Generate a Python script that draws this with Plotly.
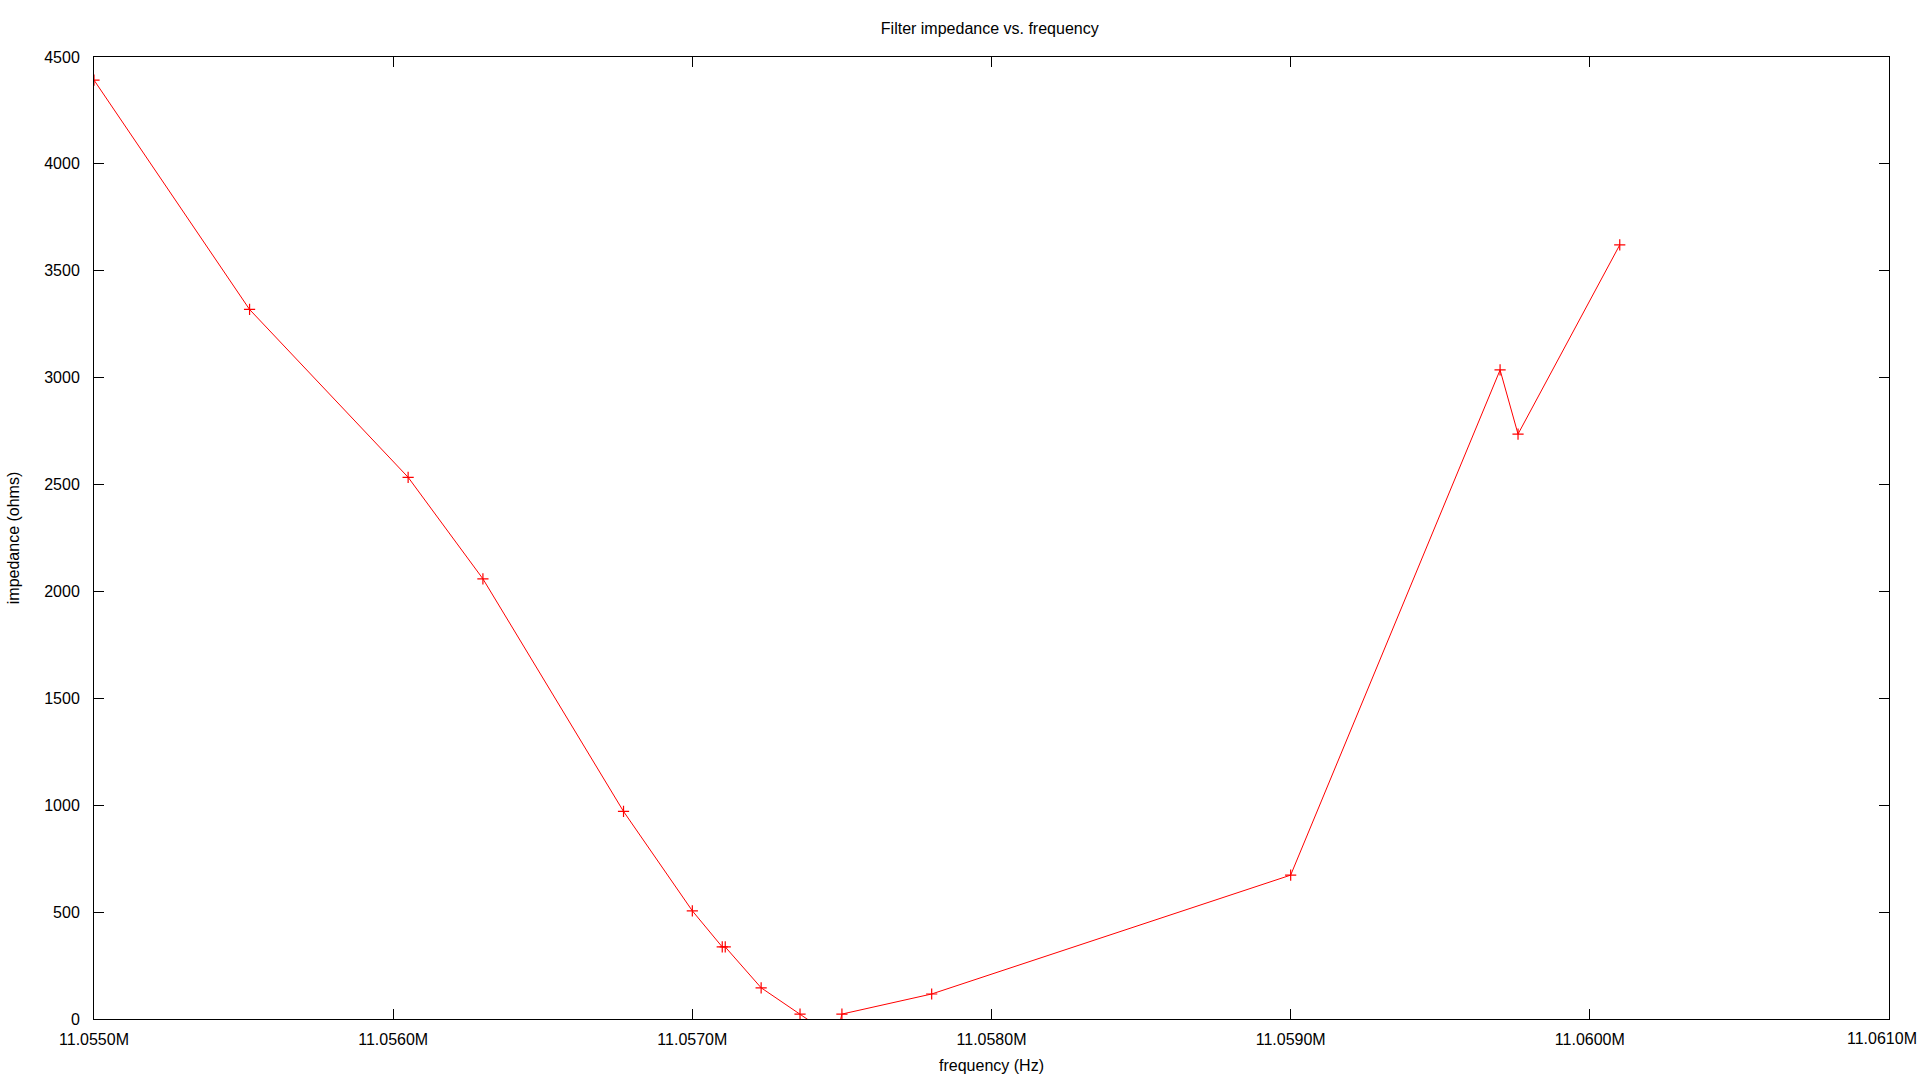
import plotly.graph_objects as go

# frequency values are absolute Hz
freq_hz = [11055000, 11055520, 11056050, 11056300, 11056770, 11057000, 11057100, 11057110,
           11057230, 11057360, 11057480, 11057500, 11057800, 11059000, 11059700, 11059760, 11060100]
impedance = [4392, 3319, 2534, 2059, 971, 506, 337, 337,
             146, 23, -92, 23, 117, 673, 3036, 2736, 3621]

x_tick_vals = [11055000, 11056000, 11057000, 11058000, 11059000, 11060000, 11061000]
x_tick_text = ["11.0550M", "11.0560M", "11.0570M", "11.0580M", "11.0590M", "11.0600M", "11.0610M"]
y_tick_vals = [0, 500, 1000, 1500, 2000, 2500, 3000, 3500, 4000, 4500]

title_text = "Filter impedance vs. frequency"
x_title = "frequency (Hz)"
y_title = "impedance (ohms)"

FONT = "Liberation Sans, Arial, sans-serif"

fig = go.Figure()
fig.add_trace(go.Scatter(
    x=freq_hz, y=impedance, mode="lines+markers",
    line=dict(color="#ff0000", width=1),
    marker=dict(symbol="cross-thin", size=8, line=dict(color="#ff0000", width=1.2), color="#ff0000"),
    cliponaxis=True, showlegend=False,
))

axis_common = dict(
    showgrid=False, zeroline=False, showline=True, linecolor="black", linewidth=1,
    mirror="ticks", ticks="inside", ticklen=10, tickcolor="black", tickwidth=1,
    tickfont=dict(family=FONT, size=16, color="black"),
    automargin=False, ticklabeloverflow="allow",
)

# the last tick label sits flush with the right page edge (as in the reference)
shown_tick_text = x_tick_text[:-1] + [""]

fig.update_layout(
    width=1920, height=1080,
    margin=dict(l=94, r=31, t=57, b=61),
    paper_bgcolor="white", plot_bgcolor="white",
    font=dict(family=FONT, size=16, color="black"),
    title=dict(text=title_text, x=0.5155, xanchor="center", y=1 - 28 / 1080, yanchor="middle",
               yref="container", font=dict(family=FONT, size=16, color="black")),
    xaxis=dict(range=[11055000, 11061000], tickmode="array", tickvals=x_tick_vals, ticktext=shown_tick_text,
               ticklabelstandoff=6,
               title=dict(text=x_title, standoff=12, font=dict(family=FONT, size=16, color="black")),
               **axis_common),
    yaxis=dict(range=[0, 4500], tickmode="array", tickvals=y_tick_vals,
               ticklabelstandoff=10,
               title=dict(text=y_title, standoff=20, font=dict(family=FONT, size=16, color="black")),
               **axis_common),
    annotations=[dict(text=x_tick_text[-1], x=x_tick_vals[-1], xref="x", y=0, yref="paper",
                      xanchor="right", yanchor="middle", xshift=29, yshift=-19, showarrow=False,
                      borderpad=0, font=dict(family=FONT, size=16, color="black"))],
)

fig.write_html("out.html", config={"displayModeBar": False},
               post_script="document.body.style.margin='0';")
